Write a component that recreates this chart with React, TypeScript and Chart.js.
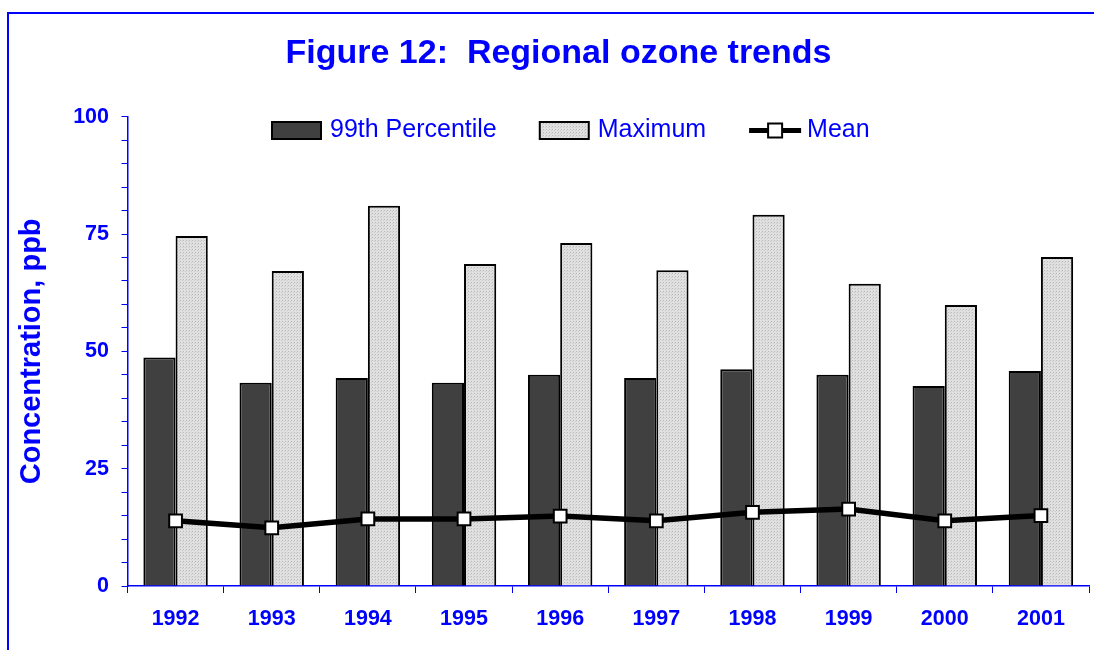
import React, { useEffect, useRef } from 'react';
import { Chart, registerables } from 'chart.js';

Chart.register(...registerables);

const BLUE = '#0000ff';
const FONT = '"Liberation Sans", Arial, Helvetica, sans-serif';

const years = ['1992', '1993', '1994', '1995', '1996', '1997', '1998', '1999', '2000', '2001'];
const percentile99 = [48.7, 43.3, 44.3, 43.3, 45.0, 44.3, 46.2, 45.0, 42.6, 45.8];
const maximum = [74.6, 67.1, 81.0, 68.6, 73.1, 67.3, 79.1, 64.4, 59.9, 70.1];
const mean = [13.9, 12.4, 14.3, 14.3, 14.9, 13.9, 15.7, 16.4, 13.9, 15.0];
const seriesLabels = ['99th Percentile', 'Maximum', 'Mean'];
const yTickLabels = [0, 25, 50, 75, 100];
const titleText = 'Figure 12:  Regional ozone trends';
const yTitleText = 'Concentration, ppb';

function makePattern(ctx: CanvasRenderingContext2D) {
  const c = document.createElement('canvas');
  c.width = 3;
  c.height = 3;
  const g = c.getContext('2d')!;
  g.fillStyle = '#e0e0e0';
  g.fillRect(0, 0, 3, 3);
  g.fillStyle = '#b8b8b8';
  g.fillRect(0, 0, 1, 1);
  g.fillStyle = '#cccccc';
  g.fillRect(2, 1, 1, 1);
  return ctx.createPattern(c, 'repeat') as CanvasPattern;
}

const legendPlugin = {
  id: 'customLegend',
  afterDraw(chart: any) {
    const ctx: CanvasRenderingContext2D = chart.ctx;
    ctx.save();
    const y = 130.5;
    let x = 272;
    ctx.font = `25px ${FONT}`;
    ctx.textBaseline = 'middle';
    ctx.textAlign = 'left';
    chart.data.datasets.forEach((ds: any) => {
      if (ds.type === 'line') {
        ctx.strokeStyle = '#000';
        ctx.lineWidth = 5;
        ctx.beginPath();
        ctx.moveTo(x, y);
        ctx.lineTo(x + 52, y);
        ctx.stroke();
        ctx.fillStyle = '#fff';
        ctx.lineWidth = 2;
        ctx.fillRect(x + 26 - 7, y - 7, 14, 14);
        ctx.strokeRect(x + 26 - 7, y - 7, 14, 14);
        x += 52 + 6;
      } else {
        ctx.fillStyle = ds.backgroundColor;
        ctx.fillRect(x, y - 8.5, 49, 17);
        ctx.strokeStyle = '#000';
        ctx.lineWidth = 2;
        ctx.strokeRect(x, y - 8.5, 49, 17);
        x += 49 + 9;
      }
      ctx.fillStyle = BLUE;
      ctx.fillText(ds.label, x, y);
      x += ctx.measureText(ds.label).width + 43;
    });
    ctx.restore();
  },
};

export default function App() {
  const ref = useRef<HTMLCanvasElement | null>(null);

  useEffect(() => {
    const canvas = ref.current!;
    const ctx = canvas.getContext('2d')!;
    const pattern = makePattern(ctx);
    const chart = new Chart(ctx, {
      type: 'bar',
      data: {
        labels: years,
        datasets: [
          {
            type: 'bar',
            label: seriesLabels[0],
            data: percentile99,
            backgroundColor: '#404040',
            borderColor: '#000',
            borderWidth: 2,
            categoryPercentage: 0.67,
            barPercentage: 1,
            order: 1,
          },
          {
            type: 'bar',
            label: seriesLabels[1],
            data: maximum,
            backgroundColor: pattern,
            borderColor: '#000',
            borderWidth: 2,
            categoryPercentage: 0.67,
            barPercentage: 1,
            order: 2,
          },
          {
            type: 'line',
            label: seriesLabels[2],
            data: mean,
            borderColor: '#000',
            borderWidth: 5.5,
            pointStyle: 'rect',
            pointRadius: 9,
            pointBackgroundColor: '#fff',
            pointBorderColor: '#000',
            pointBorderWidth: 2,
            tension: 0,
            order: 0,
          } as any,
        ],
      },
      options: {
        responsive: false,
        animation: false,
        devicePixelRatio: 1,
        layout: { padding: { left: 19.5, right: 2.5, top: 0, bottom: 0 } },
        plugins: {
          legend: { display: false },
          tooltip: { enabled: false },
          title: {
            display: true,
            text: titleText,
            color: BLUE,
            font: { family: FONT, size: 34, weight: 'bold' },
            padding: { top: 33.4, bottom: 42.5 },
          },
        },
        scales: {
          x: {
            afterFit: (s: any) => {
              s.height = 64;
            },
            border: { color: BLUE, width: 1.5 },
            grid: { offset: true, drawOnChartArea: false, drawTicks: true, tickLength: 7, color: BLUE },
            ticks: {
              color: BLUE,
              font: { family: FONT, size: 21.5, weight: 'bold' },
              padding: 13,
              maxRotation: 0,
              autoSkip: false,
            },
          },
          y: {
            min: 0,
            max: 100,
            afterFit: (s: any) => {
              s.width = 108;
            },
            border: { color: BLUE, width: 1.5 },
            grid: { drawOnChartArea: false, drawTicks: true, tickLength: 6, color: BLUE },
            ticks: {
              stepSize: 5,
              autoSkip: false,
              color: BLUE,
              font: { family: FONT, size: 21.5, weight: 'bold' },
              padding: 12.5,
              callback: (v: any) => (yTickLabels.includes(Number(v)) ? String(v) : ''),
            },
            title: {
              display: true,
              text: yTitleText,
              color: BLUE,
              font: { family: FONT, size: 29, weight: 'bold' },
              padding: { top: -5.2, bottom: 0 },
            },
          },
        },
      } as any,
      plugins: [legendPlugin],
    });
    return () => chart.destroy();
  }, []);

  return (
    <div
      style={{
        position: 'absolute',
        left: 0,
        top: 0,
        width: 1094,
        height: 650,
        overflow: 'hidden',
        background: '#fff',
      }}
    >
      <canvas ref={ref} width={1100} height={650} style={{ position: 'absolute', left: 0, top: 0 }} />
      <div
        style={{
          position: 'absolute',
          left: 7,
          top: 12,
          width: 1200,
          height: 800,
          borderTop: `2px solid ${BLUE}`,
          borderLeft: `2px solid ${BLUE}`,
          pointerEvents: 'none',
        }}
      />
    </div>
  );
}
